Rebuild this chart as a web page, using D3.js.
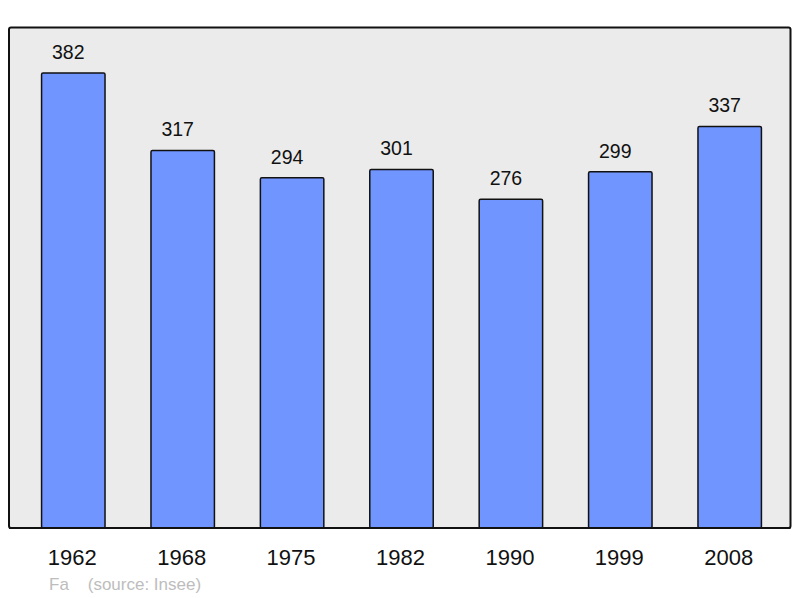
<!DOCTYPE html>
<html><head><meta charset="utf-8">
<script src="https://cdn.jsdelivr.net/npm/d3@7"></script>
<style>html,body{margin:0;padding:0;background:#fff;}svg{display:block;font-family:"Liberation Sans",Arial,sans-serif;}</style>
</head><body>
<svg id="c" width="800" height="598"></svg>
<script>
const years = ["1962","1968","1975","1982","1990","1999","2008"];
const population = [382,317,294,301,276,299,337];
const sourceText = "Fa    (source: Insee)";

const svg = d3.select("#c");
const panel = {x0: 9, y0: 27.5, x1: 790.5, y1: 528};
svg.append("rect").attr("x", panel.x0).attr("y", panel.y0)
  .attr("width", panel.x1 - panel.x0).attr("height", panel.y1 - panel.y0)
  .attr("rx", 2).attr("fill", "#ebebeb").attr("stroke", "#111").attr("stroke-width", 2);

const x = d3.scaleBand().domain(years).range([18.6, 784.4]).paddingInner(0.42).paddingOuter(0.21);
const y = d3.scaleLinear().domain([0, d3.max(population) * 1.1]).range([panel.y1, panel.y0]);

const data = years.map((yr, i) => ({yr, v: population[i]}));

svg.selectAll("rect.bar").data(data).enter().append("rect").attr("class", "bar")
  .attr("x", d => x(d.yr)).attr("y", d => y(d.v))
  .attr("width", x.bandwidth()).attr("height", d => panel.y1 - y(d.v))
  .attr("rx", 1.5)
  .attr("fill", "#7095ff").attr("stroke", "#111").attr("stroke-width", 1.5);

svg.selectAll("text.val").data(data).enter().append("text").attr("class", "val")
  .attr("x", d => x(d.yr) + x.bandwidth() / 2 - 5).attr("y", d => y(d.v) - 14.3)
  .attr("text-anchor", "middle").attr("font-size", 19.5).attr("fill", "#111")
  .text(d => d.v);

svg.append("line").attr("x1", panel.x0).attr("x2", panel.x1).attr("y1", panel.y1).attr("y2", panel.y1)
  .attr("stroke", "#111").attr("stroke-width", 2);

svg.selectAll("text.yr").data(years).enter().append("text").attr("class", "yr")
  .attr("x", d => x(d) + x.bandwidth() / 2 - 1).attr("y", 564.5)
  .attr("text-anchor", "middle").attr("font-size", 22).attr("fill", "#111")
  .text(d => d);

svg.append("text").attr("x", 49).attr("y", 589.5).attr("font-size", 17)
  .attr("fill", "#bdbdbd").attr("xml:space", "preserve").style("white-space", "pre")
  .text(sourceText);
</script>
</body></html>
